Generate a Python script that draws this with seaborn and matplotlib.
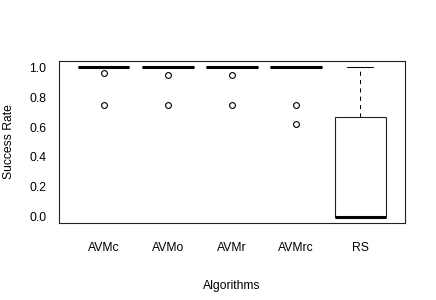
import matplotlib
matplotlib.use("Agg")
import matplotlib.pyplot as plt
import seaborn as sns
import pandas as pd

# ---- data ----
algorithms = ["AVMc", "AVMo", "AVMr", "AVMrc", "RS"]
avmc = [1.0] * 8 + [0.96, 0.75]
avmo = [1.0] * 8 + [0.95, 0.75]
avmr = [1.0] * 8 + [0.95, 0.75]
avmrc = [1.0] * 8 + [0.75, 0.62]
rs = [0.0] * 6 + [0.667, 0.667, 0.667, 1.0]
yticks = [0.0, 0.2, 0.4, 0.6, 0.8, 1.0]

series = [avmc, avmo, avmr, avmrc, rs]
df = pd.DataFrame({
    "Algorithms": [a for a, vals in zip(algorithms, series) for _ in vals],
    "Success Rate": [v for vals in series for v in vals],
})

sns.set_theme(style="white")
plt.rcParams["font.family"] = ["Liberation Sans", "DejaVu Sans"]

fig = plt.figure(figsize=(4.36, 3.0), dpi=100)
ax = fig.add_axes([59 / 436, 77 / 300, 346 / 436, 162 / 300])

edge = "#222222"
sns.boxplot(
    data=df, x="Algorithms", y="Success Rate", order=algorithms, ax=ax,
    color="white", linecolor=edge, linewidth=0.8, width=0.8, whis=1.5,
    boxprops=dict(facecolor="white", edgecolor=edge, linewidth=0.8),
    medianprops=dict(color="black", linewidth=2.2, solid_capstyle="butt"),
    whiskerprops=dict(color="black", linewidth=0.75, linestyle=(0, (4, 4))),
    capprops=dict(color="black", linewidth=0.75),
    flierprops=dict(marker="o", markerfacecolor="none", markeredgecolor="black",
                    markeredgewidth=0.8, markersize=4.2),
)

ax.set_xlim(-0.7, 4.7)
ax.set_ylim(-0.042, 1.042)
ax.set_yticks(yticks)
ax.set_yticklabels([f"{t:.1f}" for t in yticks])

for s in ax.spines.values():
    s.set_visible(True)
    s.set_color("#222222")
    s.set_linewidth(0.8)

fs = 8.7
ax.tick_params(axis="both", which="both", direction="out", length=4,
               width=0.7, color="black", labelsize=fs, labelcolor="black")
ax.tick_params(axis="x", pad=9.5)
ax.tick_params(axis="y", pad=5)
ax.set_xlabel("Algorithms", fontsize=fs, labelpad=19, color="black")
ax.set_ylabel("Success Rate", fontsize=fs, labelpad=10, color="black")
ax.grid(False)

fig.savefig("out.png", dpi=100, facecolor="white")
